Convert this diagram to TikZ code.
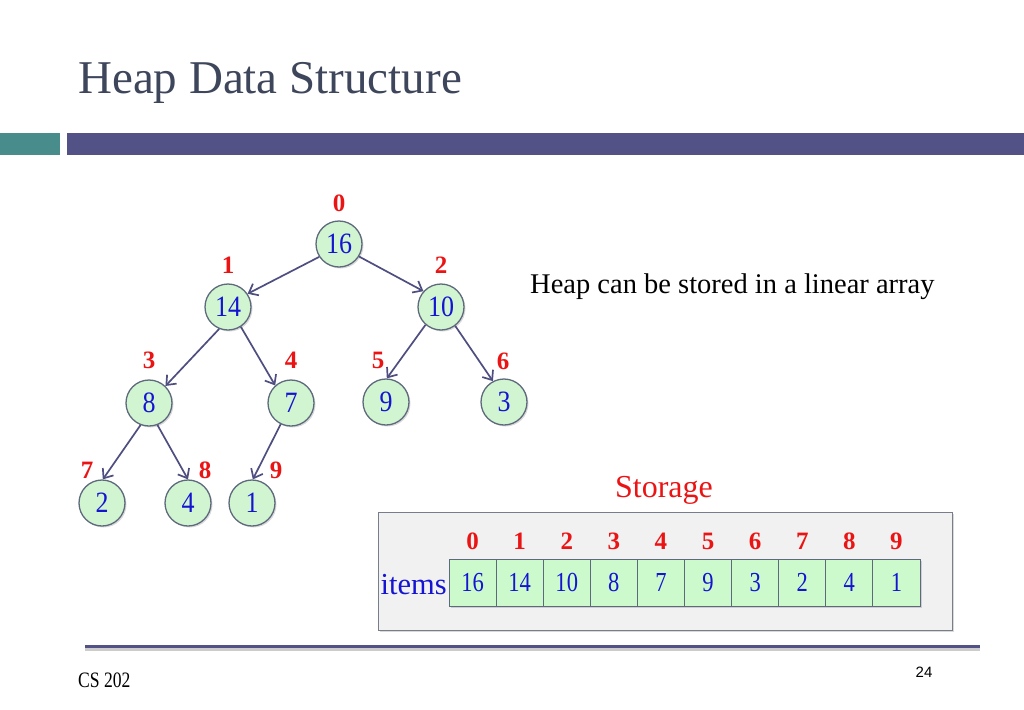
\documentclass[tikz,border=0pt]{standalone}
\usepackage{fontspec}
\setmainfont{Liberation Serif}
\newfontfamily\sansf{Liberation Sans}
\newfontfamily\nodef[FakeStretch=0.88]{Liberation Serif}
\newfontfamily\cellf[FakeStretch=0.82]{Liberation Serif}
\newfontfamily\footf[FakeStretch=0.8]{Liberation Serif}
\usetikzlibrary{arrows.meta,shadows}
\definecolor{titlec}{RGB}{62,70,92}
\definecolor{tealbar}{RGB}{72,140,140}
\definecolor{purpbar}{RGB}{82,82,135}
\definecolor{nodefill}{RGB}{208,245,208}
\definecolor{nodeedge}{RGB}{95,105,125}
\definecolor{numblue}{RGB}{20,20,210}
\definecolor{idxred}{RGB}{235,20,20}
\definecolor{edgec}{RGB}{78,78,128}
\definecolor{boxfill}{RGB}{241,241,241}
\definecolor{boxedge}{RGB}{120,125,140}
\definecolor{cellfill}{RGB}{204,250,204}
\begin{document}
\begin{tikzpicture}[x=1pt,y=-1pt,
  hn/.style={circle,draw=nodeedge,line width=1.3pt,fill=nodefill,minimum size=46pt,inner sep=0pt,
    text=numblue,font=\nodef\fontsize{29.5}{31}\selectfont,
    drop shadow={shadow xshift=1.5pt,shadow yshift=-1.5pt,opacity=0.3}},
  idx/.style={text=idxred,font=\bfseries\fontsize{25}{27}\selectfont,inner sep=0pt},
  hedge/.style={draw=edgec,line width=1.7pt,-{Straight Barb[length=8pt,width=13pt]}},
  cell/.style={draw=nodeedge,line width=1pt,fill=cellfill,minimum width=47.1pt,minimum height=47pt,
    inner sep=0pt,text=numblue,font=\cellf\fontsize{27.5}{29}\selectfont,
    drop shadow={shadow xshift=1.5pt,shadow yshift=-1.5pt,opacity=0.3}},
  aidx/.style={text=idxred,font=\bfseries\fontsize{25}{27}\selectfont,inner sep=0pt}
]
\useasboundingbox (0,0) rectangle (1024,709);
% title and bars
\node[anchor=base west,inner sep=0pt,text=titlec,font=\fontsize{47}{50}\selectfont] (title) at (78,93) {Heap Data Structure};
\fill[tealbar] (0,133) rectangle (60,155);
\fill[purpbar] (67,133) rectangle (1024,155);
% tree nodes
\node[hn] (n0) at (339,244) {16};
\node[hn] (n1) at (228,307) {14};
\node[hn] (n2) at (441,307) {10};
\node[hn] (n3) at (149,403) {8};
\node[hn] (n4) at (291,403) {7};
\node[hn] (n5) at (386,402) {9};
\node[hn] (n6) at (504,402) {3};
\node[hn] (n7) at (102,503) {2};
\node[hn] (n8) at (188,503) {4};
\node[hn] (n9) at (252,503) {1};
% index labels
\node[idx] (i0) at (339,203) {0};
\node[idx] (i1) at (228,265) {1};
\node[idx] (i2) at (441,265) {2};
\node[idx] (i3) at (149,360) {3};
\node[idx] (i4) at (291,360) {4};
\node[idx] (i5) at (378,360) {5};
\node[idx] (i6) at (503,361) {6};
\node[idx] (i7) at (87,470) {7};
\node[idx] (i8) at (205,470) {8};
\node[idx] (i9) at (276,470) {9};
% edges
\draw[hedge] (n0.213) -- (n1.34);
\draw[hedge] (n0.328) -- (n2.138);
\draw[hedge] (n1.248) -- (n3.46);
\draw[hedge] (n1.303) -- (n4.132);
\draw[hedge] (n2.229) -- (n5.88);
\draw[hedge] (n2.307) -- (n6.118);
\draw[hedge] (n3.249) -- (n7.88);
\draw[hedge] (n3.291) -- (n8.90);
\draw[hedge] (n4.244) -- (n9.88);
% caption
\node[anchor=base west,inner sep=0pt,font=\fontsize{28.5}{30}\selectfont] (cap) at (530,293) {Heap can be stored in a linear array};
% storage
\node[text=idxred,font=\fontsize{32}{34}\selectfont,inner sep=0pt] (stor) at (664,490) {Storage};
\node[draw=boxedge,line width=1pt,fill=boxfill,minimum width=574pt,minimum height=118pt,inner sep=0pt,
  drop shadow={shadow xshift=1.5pt,shadow yshift=-1.5pt,opacity=0.3}] (box) at (665,571) {};
\foreach \v [count=\i from 0] in {16,14,10,8,7,9,3,2,4,1} {
  \node[cell] (c\i) at ({472.55+47.1*\i},582.5) {\v};
  \node[aidx] (a\i) at ({472.55+47.1*\i},541) {\i};
}
\node[anchor=east,inner sep=0pt,text=numblue,font=\fontsize{30.5}{32}\selectfont] (items) at (447,585) {items};
% footer
\fill[black!20] (85,648) rectangle (980,651);
\fill[purpbar] (85,645) rectangle (980,648);
\node[anchor=base west,inner sep=0pt,font=\footf\fontsize{22}{24}\selectfont] (cs) at (78,687) {CS 202};
\node[anchor=base,inner sep=0pt,font=\sansf\fontsize{15}{17}\selectfont] (pg) at (924,677) {24};
\end{tikzpicture}
\end{document}
